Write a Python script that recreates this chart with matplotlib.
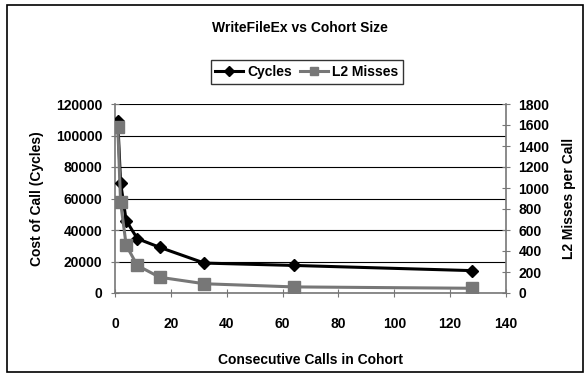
import matplotlib
matplotlib.use("Agg")
from matplotlib import pyplot as plt

# data
calls = [1, 2, 4, 8, 16, 32, 64, 128]
cycles = [109000, 70000, 46000, 34500, 29000, 19000, 17500, 14200]
l2_misses = [1580, 865, 455, 262, 150, 88, 58, 45]

plt.rcParams['font.family'] = ['Liberation Sans', 'DejaVu Sans']
plt.rcParams['font.weight'] = 'bold'
plt.rcParams['font.size'] = 10

fig = plt.figure(figsize=(5.88, 3.77), dpi=100)
ax = fig.add_axes([115 / 588, 1 - 293 / 377, (506 - 115) / 588, (293 - 104) / 377])
ax2 = ax.twinx()

ax.plot(calls, cycles, '-D', color='black', lw=2.2, ms=6, label='Cycles', zorder=3)
ax2.plot(calls, l2_misses, '-s', color='#777777', lw=2.2, ms=8, label='L2 Misses', zorder=3)

ax.set_xlim(0, 140)
ax.set_ylim(0, 120000)
ax2.set_ylim(0, 1800)
ax.set_xticks(range(0, 141, 20))
ax.set_yticks(range(0, 120001, 20000))
ax2.set_yticks(range(0, 1801, 200))
ax.yaxis.grid(True, color='black', lw=0.8)
ax.set_axisbelow(True)

for a in (ax, ax2):
    for s in a.spines.values():
        s.set_visible(False)
    a.tick_params(direction='inout', length=6, color='#777777', labelsize=10)
ax.spines['left'].set_visible(True)
ax.spines['bottom'].set_visible(True)
ax2.spines['right'].set_visible(True)
for s in (ax.spines['left'], ax.spines['bottom'], ax2.spines['right']):
    s.set_color('#777777')
    s.set_linewidth(1.2)
ax.tick_params(axis='x', pad=14)
ax.tick_params(axis='y', pad=6)
ax2.tick_params(axis='y', pad=6)

ax.set_xlabel('Consecutive Calls in Cohort', fontweight='bold', labelpad=16)
ax.set_ylabel('Cost of Call (Cycles)', fontweight='bold', labelpad=9)
ax2.set_ylabel('L2 Misses per Call', fontweight='bold', labelpad=9)

fig.text(0.51, 1 - 28 / 377, 'WriteFileEx vs Cohort Size', ha='center', va='center', fontweight='bold')

h1, l1 = ax.get_legend_handles_labels()
h2, l2 = ax2.get_legend_handles_labels()
leg = fig.legend(h1 + h2, l1 + l2, loc='center', bbox_to_anchor=(307 / 588, 1 - 72 / 377),
                 ncol=2, frameon=True, fancybox=False, edgecolor='black',
                 handlelength=2.0, columnspacing=0.6, handletextpad=0.3, borderpad=0.35,
                 markerscale=0.8)
leg.get_frame().set_linewidth(1.0)

fig.patches.append(plt.Rectangle((7 / 588, 5 / 377), 576 / 588, 367 / 377, transform=fig.transFigure,
                                 fill=False, edgecolor='black', lw=1.2))

fig.savefig('out.png', dpi=100)
